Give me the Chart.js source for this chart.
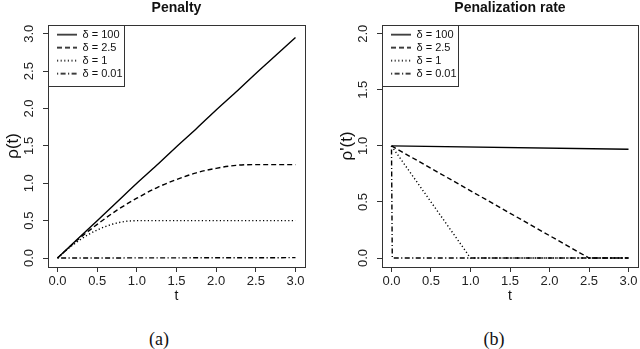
<!DOCTYPE html>
<html>
<head>
<meta charset="utf-8">
<script src="https://cdn.jsdelivr.net/npm/chart.js@4.4.1/dist/chart.umd.min.js"></script>
<style>
  body { margin: 0; width: 640px; height: 349px; background: #fff; position: relative; overflow: hidden; }
  .panel { position: absolute; top: 0; }
  .caption { position: absolute; top: 328px; width: 60px; text-align: center;
    font: 18px 'Liberation Serif', 'DejaVu Serif', serif; line-height: 22px; color: #111; }
</style>
</head>
<body>
<canvas id="penalty" class="panel" style="left:0" width="320" height="305"></canvas>
<canvas id="rate" class="panel" style="left:320px" width="320" height="305"></canvas>
<div class="caption" style="left:129px">(a)</div>
<div class="caption" style="left:464px">(b)</div>
<script>
const seriesLabels = ['δ = 100', 'δ = 2.5', 'δ = 1', 'δ = 0.01'];
const xTicks = [0, 0.5, 1.0, 1.5, 2.0, 2.5, 3.0];
const penaltyTicks = [0, 0.5, 1.0, 1.5, 2.0, 2.5, 3.0];
const rateTicks = [0, 0.5, 1.0, 1.5, 2.0];

// penalty rho(t)
const tCoarse = [0, 0.25, 0.5, 0.75, 1.0, 1.25, 1.5, 1.75, 2.0, 2.25, 2.5, 2.75, 3.0];
const penaltyD100 = [0, 0.25, 0.5, 0.75, 1.0, 1.24, 1.49, 1.73, 1.98, 2.22, 2.47, 2.71, 2.95];
const penaltyD2_5 = [0, 0.24, 0.45, 0.64, 0.80, 0.94, 1.05, 1.14, 1.20, 1.24, 1.25, 1.25, 1.25];
const tFine = [0, 0.1, 0.2, 0.3, 0.4, 0.5, 0.6, 0.7, 0.8, 0.9, 1.0, 3.0];
const penaltyD1 = [0, 0.095, 0.18, 0.255, 0.32, 0.375, 0.42, 0.455, 0.48, 0.495, 0.5, 0.5];
const tEnds = [0, 3.0];
const penaltyD001 = [0, 0.005];

// penalization rate rho'(t)
const rateT100 = [0, 3.0];
const rateD100 = [1.0, 0.97];
const rateT2_5 = [0, 2.5, 3.0];
const rateD2_5 = [1.0, 0, 0];
const rateT1 = [0, 1.0, 3.0];
const rateD1 = [1.0, 0, 0];
const rateT001 = [0, 0.01, 3.0];
const rateD001 = [1.0, 0, 0];

const dashes = [[], [5, 3], [1.2, 2.4], [1.2, 2.4, 5, 2.4]];
const ink = '#1a1a1a';

Chart.defaults.font.family = "'Liberation Sans', Arial, sans-serif";
Chart.defaults.color = ink;

const pts = (xs, ys) => xs.map((x, i) => ({ x, y: ys[i] }));

// small line sample for the legend, since the legend ignores borderDash with point styles
function lineSample(dash) {
  const c = document.createElement('canvas');
  c.width = 20;
  c.height = 3;
  const g = c.getContext('2d');
  g.strokeStyle = '#000';
  g.lineWidth = 1.4;
  g.setLineDash(dash);
  g.beginPath();
  g.moveTo(0, 1.5);
  g.lineTo(20, 1.5);
  g.stroke();
  return c;
}

// R-style plot box and legend frame
const framePlugin = {
  id: 'frame',
  afterLayout(chart) {
    const ca = chart.chartArea;
    const lg = chart.legend;
    lg.left = ca.left + 7;
    lg.top = ca.top + 2.5;
    lg.right = lg.left + lg.width;
    lg.bottom = ca.bottom;
  },
  afterDraw(chart) {
    const { ctx, chartArea: ca } = chart;
    ctx.save();
    ctx.strokeStyle = '#333';
    ctx.lineWidth = 1;
    ctx.setLineDash([]);
    ctx.strokeRect(Math.round(ca.left) + 0.5, Math.round(ca.top) + 0.5,
      Math.round(ca.right - ca.left), Math.round(ca.bottom - ca.top));
    const hb = chart.legend.legendHitBoxes;
    const right = Math.max(...hb.map(h => h.left + h.width)) + 1;
    const last = hb[hb.length - 1];
    const bottom = last.top + last.height + 6;
    ctx.strokeRect(Math.round(ca.left) + 0.5, Math.round(ca.top) + 0.5,
      Math.round(right - ca.left), Math.round(bottom - ca.top));
    ctx.restore();
  }
};

function makeChart(id, title, yTitle, yTicks, yMin, yMax, series, padLeft, padRight, curved) {
  const datasets = series.map((s, i) => ({
    label: seriesLabels[i],
    data: s,
    borderColor: '#000',
    backgroundColor: '#000',
    borderWidth: 1.4,
    borderDash: dashes[i],
    pointRadius: 0,
    pointStyle: lineSample(dashes[i]),
    fill: false,
    cubicInterpolationMode: curved ? 'monotone' : 'default',
    tension: 0
  }));
  return new Chart(document.getElementById(id), {
    type: 'line',
    data: { datasets },
    plugins: [framePlugin],
    options: {
      responsive: false,
      animation: false,
      layout: { padding: { left: padLeft, right: padRight, top: 0, bottom: 0 } },
      plugins: {
        title: {
          display: true,
          text: title,
          fullSize: false,
          color: '#111',
          font: { size: 14, weight: 'bold' },
          padding: { top: 0, bottom: 8 }
        },
        legend: {
          position: 'chartArea',
          align: 'start',
          labels: {
            usePointStyle: true,
            pointStyleWidth: 20,
            padding: 2,
            color: '#111',
            font: { size: 11 }
          }
        },
        tooltip: { enabled: false }
      },
      scales: {
        x: {
          type: 'linear',
          min: -0.12,
          max: 3.12,
          afterBuildTicks: s => { s.ticks = xTicks.map(v => ({ value: v })); },
          afterFit: s => { s.height = 38; s.paddingLeft = 0; s.paddingRight = 0; },
          ticks: { callback: v => v.toFixed(1), font: { size: 13 }, color: '#222', padding: 2, maxRotation: 0, autoSkip: false },
          grid: { drawOnChartArea: false, drawTicks: true, tickLength: 5, color: '#333' },
          border: { display: false },
          title: { display: true, text: 't', font: { size: 14 }, color: '#111', padding: { top: 0, bottom: 0 } }
        },
        y: {
          type: 'linear',
          min: yMin,
          max: yMax,
          afterBuildTicks: s => { s.ticks = yTicks.map(v => ({ value: v })); },
          afterFit: s => { s.width = 48; s.paddingTop = 0; s.paddingBottom = 0; },
          ticks: { callback: v => v.toFixed(1), font: { size: 13 }, color: '#222', padding: 5, minRotation: 90, maxRotation: 90, crossAlign: 'center', autoSkip: false },
          grid: { drawOnChartArea: false, drawTicks: true, tickLength: 5, color: '#333' },
          border: { display: false },
          title: { display: true, text: yTitle, font: { size: 17 }, color: '#111', padding: { top: 3, bottom: 0 } }
        }
      }
    }
  });
}

makeChart('penalty', 'Penalty', 'ρ(t)', penaltyTicks, -0.12, 3.12, [
  pts(tCoarse, penaltyD100),
  pts(tCoarse, penaltyD2_5),
  pts(tFine, penaltyD1),
  pts(tEnds, penaltyD001)
], 0, 15, true);

makeChart('rate', 'Penalization rate', "ρ'(t)", rateTicks, -0.08, 2.08, [
  pts(rateT100, rateD100),
  pts(rateT2_5, rateD2_5),
  pts(rateT1, rateD1),
  pts(rateT001, rateD001)
], 14, 2, false);
</script>
</body>
</html>
